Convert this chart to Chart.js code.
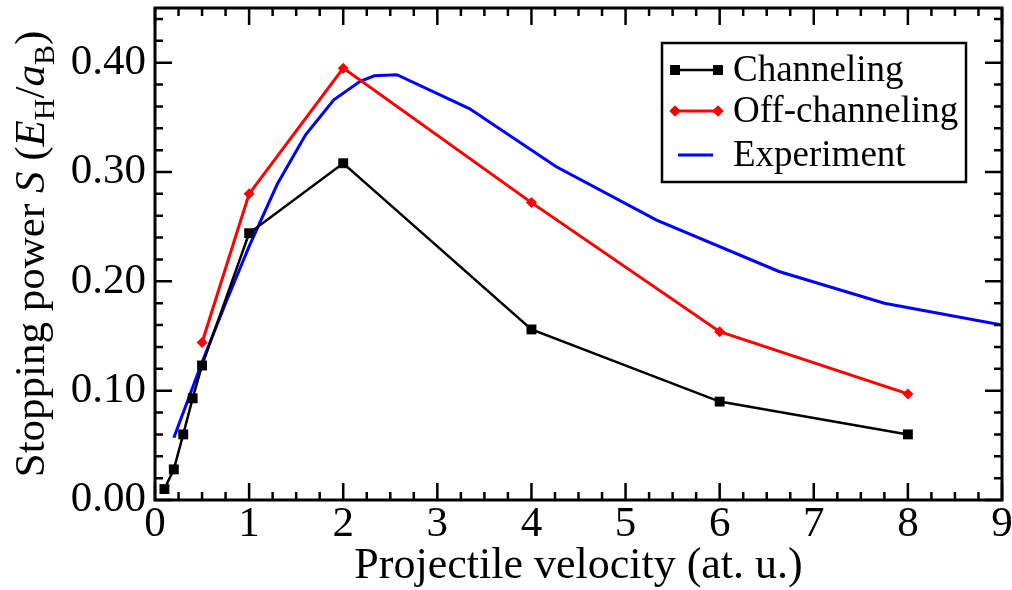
<!DOCTYPE html>
<html>
<head>
<meta charset="utf-8">
<script src="https://cdn.jsdelivr.net/npm/chart.js@4.4.0/dist/chart.umd.min.js"></script>
<style>
  html, body { margin: 0; padding: 0; background: #fff; }
</style>
</head>
<body>
<canvas id="myChart" width="1012" height="590"></canvas>
<script>
// datos
var channelX = [0.1, 0.2, 0.3, 0.4, 0.5, 1, 2, 4, 6, 8];
var channelY = [0.010, 0.028, 0.060, 0.093, 0.123, 0.244, 0.308, 0.156, 0.090, 0.060];

var offX = [0.5, 1, 2, 4, 6, 8];
var offY = [0.144, 0.280, 0.395, 0.272, 0.154, 0.097];

var expX = [0.2, 0.5, 0.75, 1.0, 1.3, 1.6, 1.9, 2.18, 2.33, 2.57, 3.34, 4.26, 5.33, 6.63, 7.75, 9.0];
var expY = [0.057, 0.126, 0.180, 0.232, 0.289, 0.334, 0.366, 0.383, 0.388, 0.389, 0.358, 0.305, 0.256, 0.209, 0.180, 0.160];

var xTicks = [0, 1, 2, 3, 4, 5, 6, 7, 8, 9];
var yTicks = [0.0, 0.1, 0.2, 0.3, 0.4];

var FONT = '"Liberation Serif", "DejaVu Serif", serif';

function toPoints(xs, ys) {
    return xs.map(function (x, i) { return { x: x, y: ys[i] }; });
}

// marco, ticks hacia dentro, titulos y leyenda
var framePlugin = {
    id: 'framePlugin',
    afterDraw: function (chart) {
        var ctx = chart.ctx;
        var a = chart.chartArea;
        var xs = chart.scales.x;
        var ys = chart.scales.y;
        ctx.save();
        ctx.strokeStyle = '#000';

        // ticks
        ctx.lineWidth = 2.5;
        ctx.beginPath();
        for (var v = 0; v <= 9.001; v += 0.25) {
            var px = xs.getPixelForValue(v);
            var len = Math.abs(v - Math.round(v)) < 1e-6 ? 17 : 8;
            ctx.moveTo(px, a.bottom); ctx.lineTo(px, a.bottom - len);
            ctx.moveTo(px, a.top); ctx.lineTo(px, a.top + len);
        }
        for (var k = 0; k <= 22; k++) {
            var yv = k * 0.02;
            var py = ys.getPixelForValue(yv);
            var l2 = k % 5 === 0 ? 17 : 8;
            ctx.moveTo(a.left, py); ctx.lineTo(a.left + l2, py);
            ctx.moveTo(a.right, py); ctx.lineTo(a.right - l2, py);
        }
        ctx.stroke();

        // marco
        ctx.lineWidth = 3;
        ctx.strokeRect(a.left, a.top, a.right - a.left, a.bottom - a.top);

        // titulo eje x
        ctx.fillStyle = '#000';
        ctx.font = '44px ' + FONT;
        ctx.textAlign = 'center';
        ctx.textBaseline = 'alphabetic';
        ctx.fillText('Projectile velocity (at. u.)', (a.left + a.right) / 2, 578);

        // titulo eje y con cursivas y subindices
        var parts = [
            { t: 'Stopping power ', f: '43px ' + FONT, dy: 0 },
            { t: 'S', f: 'italic 43px ' + FONT, dy: 0 },
            { t: ' (', f: '43px ' + FONT, dy: 0 },
            { t: 'E', f: 'italic 43px ' + FONT, dy: 0 },
            { t: 'H', f: '30px ' + FONT, dy: 10 },
            { t: '/', f: '43px ' + FONT, dy: 0 },
            { t: 'a', f: 'italic 43px ' + FONT, dy: 0 },
            { t: 'B', f: '30px ' + FONT, dy: 10 },
            { t: ')', f: '43px ' + FONT, dy: 0 }
        ];
        var total = 0;
        parts.forEach(function (p) { ctx.font = p.f; p.w = ctx.measureText(p.t).width; total += p.w; });
        ctx.save();
        ctx.translate(44, (a.top + a.bottom) / 2);
        ctx.rotate(-Math.PI / 2);
        ctx.textAlign = 'left';
        var cx = -total / 2;
        parts.forEach(function (p) {
            ctx.font = p.f;
            ctx.fillText(p.t, cx, p.dy);
            cx += p.w;
        });
        ctx.restore();

        // leyenda
        ctx.lineWidth = 2.5;
        ctx.strokeRect(662, 43, 304, 139);
        var rows = [70, 111, 155];
        chart.data.datasets.forEach(function (ds, i) {
            var y = rows[i];
            ctx.strokeStyle = ds.borderColor;
            ctx.fillStyle = ds.borderColor;
            ctx.lineWidth = ds.borderWidth;
            ctx.beginPath();
            if (ds.pointRadius > 0) {
                ctx.moveTo(675, y); ctx.lineTo(718, y);
            } else {
                ctx.moveTo(678, y); ctx.lineTo(713, y);
            }
            ctx.stroke();
            if (ds.pointRadius > 0) {
                [675, 718].forEach(function (mx) {
                    Chart.helpers.drawPoint(ctx, {
                        pointStyle: ds.pointStyle, radius: ds.pointRadius, borderWidth: 0
                    }, mx, y);
                    ctx.fill();
                });
            }
            ctx.fillStyle = '#000';
            ctx.font = '37px ' + FONT;
            ctx.textAlign = 'left';
            ctx.textBaseline = 'middle';
            ctx.fillText(ds.label, 733, y + 1);
        });
        ctx.restore();
    }
};

var ctx = document.getElementById('myChart').getContext('2d');
var myChart = new Chart(ctx, {
    type: 'scatter',
    data: {
        datasets: [{
            label: 'Channeling',
            data: toPoints(channelX, channelY),
            showLine: true,
            borderColor: '#000000',
            backgroundColor: '#000000',
            borderWidth: 2.5,
            pointStyle: 'rect',
            pointRadius: 7,
            pointBorderWidth: 0
        }, {
            label: 'Off-channeling',
            data: toPoints(offX, offY),
            showLine: true,
            borderColor: '#ff0000',
            backgroundColor: '#ff0000',
            borderWidth: 3,
            pointStyle: 'rectRot',
            pointRadius: 5.5,
            pointBorderWidth: 0
        }, {
            label: 'Experiment',
            data: toPoints(expX, expY),
            showLine: true,
            borderColor: '#0000ff',
            backgroundColor: '#0000ff',
            borderWidth: 3,
            pointRadius: 0
        }]
    },
    options: {
        responsive: false,
        animation: false,
        layout: { padding: { top: 8, right: 10, left: 0, bottom: 0 } },
        plugins: {
            legend: { display: false },
            tooltip: { enabled: false }
        },
        scales: {
            x: {
                type: 'linear',
                min: 0,
                max: 9,
                afterBuildTicks: function (s) { s.ticks = xTicks.map(function (v) { return { value: v }; }); },
                afterFit: function (s) { s.height = 90; s.paddingLeft = 0; s.paddingRight = 0; },
                grid: { display: false, drawTicks: false },
                border: { display: false },
                ticks: {
                    padding: -1,
                    color: '#000',
                    font: { family: FONT, size: 43 },
                    maxRotation: 0,
                    callback: function (v) { return String(v); }
                }
            },
            y: {
                type: 'linear',
                min: 0,
                max: 0.45,
                afterBuildTicks: function (s) { s.ticks = yTicks.map(function (v) { return { value: v }; }); },
                afterFit: function (s) { s.width = 155; s.paddingTop = 0; s.paddingBottom = 0; },
                grid: { display: false, drawTicks: false },
                border: { display: false },
                ticks: {
                    padding: 9,
                    color: '#000',
                    font: { family: FONT, size: 43 },
                    callback: function (v) { return v.toFixed(2); }
                }
            }
        }
    },
    plugins: [framePlugin]
});
</script>
</body>
</html>
